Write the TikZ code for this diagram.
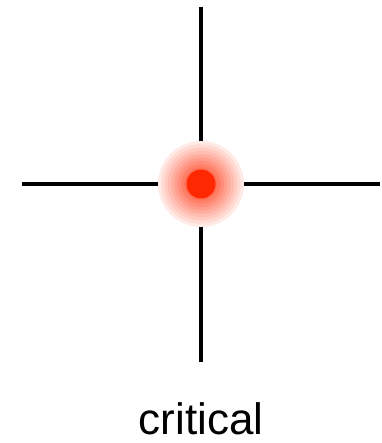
\documentclass[tikz,border=0pt]{standalone}
\usepackage{fontspec}
\setmainfont{Liberation Sans}
\definecolor{core}{RGB}{255,40,0}
\tikzset{arm/.style={line width=3.6pt,black}}
\begin{document}
\begin{tikzpicture}[x=1pt,y=-1pt]
\useasboundingbox (0,0) rectangle (381,443);
\coordinate (c) at (201,184);
\coordinate (t) at (201,7);
\coordinate (b) at (201,362);
\coordinate (l) at (22,184);
\coordinate (r) at (380,184);
\draw[arm] (t) -- (b);
\draw[arm] (l) -- (r);
\foreach \i in {0,...,8}{
  \pgfmathsetmacro{\rr}{43-\i*3.3}
  \pgfmathsetmacro{\pp}{10+\i*7}
  \fill[core!\pp!white] (c) circle[radius=\rr];
}
\fill[core] (c) circle[radius=14.5];
\node[font=\fontsize{44}{48}\selectfont, anchor=base, inner sep=0pt] (lab) at (201,434) {critical};
\end{tikzpicture}
\end{document}
